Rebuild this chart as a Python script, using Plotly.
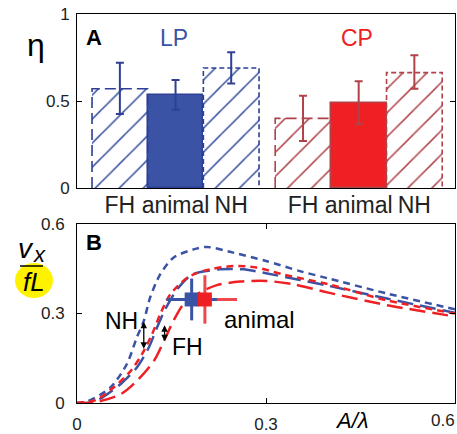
import plotly.graph_objects as go

# ---------------- Panel A data ----------------
bar_labels = ["FH", "animal", "NH"]
lp_eta = [0.57, 0.535, 0.69]
lp_err_top = [0.72, 0.62, 0.78]
lp_err_bot = [0.425, 0.45, 0.60]
cp_eta = [0.40, 0.487, 0.663]
cp_err_top = [0.53, 0.613, 0.763]
cp_err_bot = [0.27, 0.366, 0.571]

# ---------------- Panel B data ----------------
nh_lp_x = [0, 0.016, 0.053, 0.079, 0.095, 0.106, 0.116, 0.132, 0.153, 0.185, 0.206, 0.248, 0.30, 0.354, 0.398, 0.492, 0.60]
nh_lp_y = [0, 0.005, 0.052, 0.13, 0.22, 0.275, 0.353, 0.431, 0.487, 0.515, 0.523, 0.504, 0.476, 0.442, 0.418, 0.367, 0.314]
fh_lp_x = [0, 0.025, 0.04, 0.069, 0.095, 0.114, 0.127, 0.14, 0.159, 0.183, 0.227, 0.264, 0.30, 0.354, 0.399, 0.492, 0.60]
fh_lp_y = [0, 0.003, 0.018, 0.063, 0.119, 0.186, 0.253, 0.314, 0.381, 0.431, 0.448, 0.448, 0.435, 0.412, 0.393, 0.35, 0.302]
nh_cp_x = [0, 0.03, 0.058, 0.085, 0.103, 0.119, 0.132, 0.148, 0.175, 0.201, 0.248, 0.285, 0.327, 0.399, 0.492, 0.60]
nh_cp_y = [0, 0.01, 0.052, 0.107, 0.163, 0.23, 0.297, 0.364, 0.42, 0.443, 0.459, 0.454, 0.431, 0.398, 0.344, 0.30]
fh_cp_x = [0, 0.03, 0.069, 0.095, 0.122, 0.138, 0.153, 0.169, 0.195, 0.222, 0.259, 0.301, 0.343, 0.399, 0.492, 0.60]
fh_cp_y = [0, 0.003, 0.029, 0.074, 0.141, 0.208, 0.275, 0.331, 0.37, 0.395, 0.407, 0.409, 0.398, 0.37, 0.328, 0.29]

anim_x = [0.182, 0.203]      # LP, CP
anim_y = [0.347, 0.347]
anim_xerr = [0.04, 0.051]
anim_yerr = [0.07, 0.081]

arrow_nh = [0.106, 0.182, 0.277]   # x, y_low, y_high
arrow_fh = [0.139, 0.207, 0.266]

x2_ticks = [0, 0.3, 0.6]
x2_ticklabels = ["0", "0.3", "0.6"]

# ---------------- styling ----------------
BLUE = "#3A53A4"
BLUE_D = "#2E3F95"
RED = "#EE2024"
RED_D = "#B0434A"
FONT = "Liberation Sans, Arial, sans-serif"
W, H = 457, 434

lp_pos = [1, 2, 3]
cp_pos = [4.29, 5.29, 6.29]
bw = 1.0

fig = go.Figure()

def add_group(pos, vals, tops, bots, fill, hatch, edge, errc):
    for i, (p, v) in enumerate(zip(pos, vals)):
        if bar_labels[i] == "animal":
            fig.add_trace(go.Bar(x=[p], y=[v], width=bw, marker=dict(color=fill, line=dict(color=edge, width=1.5)),
                                 xaxis="x", yaxis="y"))
        else:
            fig.add_trace(go.Bar(x=[p], y=[v], width=bw,
                                 marker=dict(color="white", line=dict(width=0),
                                             pattern=dict(shape="/", fgcolor=hatch, bgcolor="white",
                                                          size=17, solidity=0.09, fgopacity=1, fillmode="overlay")),
                                 xaxis="x", yaxis="y"))
            dash = "11px,5px" if bar_labels[i] == "FH" else "5px,3px"
            fig.add_trace(go.Scatter(x=[p - bw / 2, p - bw / 2, p + bw / 2, p + bw / 2],
                                     y=[0, v, v, 0], mode="lines",
                                     line=dict(color=edge, width=1.6, dash=dash),
                                     xaxis="x", yaxis="y", cliponaxis=False))
    fig.add_trace(go.Scatter(x=pos, y=vals, mode="markers", marker=dict(size=1, opacity=0),
                             error_y=dict(type="data", symmetric=False,
                                          array=[t - v for t, v in zip(tops, vals)],
                                          arrayminus=[v - b for b, v in zip(bots, vals)],
                                          color=errc, thickness=2, width=4),
                             xaxis="x", yaxis="y"))

add_group(lp_pos, lp_eta, lp_err_top, lp_err_bot, BLUE, BLUE, BLUE_D, BLUE_D)
add_group(cp_pos, cp_eta, cp_err_top, cp_err_bot, RED, RED_D, RED_D, RED_D)

# ---------------- Panel B ----------------
curves = [
    (nh_lp_x, nh_lp_y, BLUE, "7px,5px"),
    (fh_lp_x, fh_lp_y, BLUE, "16px,7px"),
    (nh_cp_x, nh_cp_y, RED, "7px,5px"),
    (fh_cp_x, fh_cp_y, RED, "16px,7px"),
]
for cx, cy, col, dash in curves:
    fig.add_trace(go.Scatter(x=cx, y=cy, mode="lines", line=dict(color=col, width=2.5, dash=dash, shape="spline", smoothing=0.8),
                             xaxis="x2", yaxis="y2"))

anim_cols = [BLUE, "#F0474C"]
for i in [1, 0]:
    fig.add_trace(go.Scatter(x=[anim_x[i]], y=[anim_y[i]], mode="markers", marker=dict(size=1, opacity=0),
                             error_x=dict(type="data", array=[anim_xerr[i]], color=anim_cols[i], thickness=3, width=0),
                             error_y=dict(type="data", array=[anim_yerr[i]], color=anim_cols[i], thickness=3, width=0),
                             xaxis="x2", yaxis="y2"))
for i, col in enumerate([BLUE, RED]):
    fig.add_trace(go.Scatter(x=[anim_x[i]], y=[anim_y[i]], mode="markers",
                             marker=dict(symbol="square", size=14, color=col, line=dict(width=0)),
                             xaxis="x2", yaxis="y2"))

ann = []
for a in (arrow_nh, arrow_fh):
    ann.append(dict(x=a[0], y=a[1], ax=a[0], ay=a[2], xref="x2", yref="y2", axref="x2", ayref="y2",
                    text="", showarrow=True, arrowhead=2, startarrowhead=2, arrowside="end+start",
                    arrowsize=1, startarrowsize=1, arrowwidth=1.3, arrowcolor="black"))

def txt(t, x, y, size, color="black", xref="paper", yref="paper", xanchor="center", **kw):
    ann.append(dict(text=t, x=x, y=y, xref=xref, yref=yref, showarrow=False,
                    font=dict(family=FONT, size=size, color=color), xanchor=xanchor, yanchor="middle", **kw))

def px(xp, yp):
    return xp / W, 1 - yp / H

txt("<b>A</b>", *px(94, 37), 22)
txt("LP", *px(174, 38), 23, BLUE)
txt("CP", *px(357, 38), 23, RED)
txt("η", *px(36, 45), 32)
txt("<b>B</b>", *px(94, 243), 22)
txt("<i>v</i>", *px(26, 248), 28)
txt("<i>x</i>", *px(39, 254), 22)
txt("<i>fL</i>", *px(34, 282), 26)
txt("<i>A/λ</i>", *px(352, 420), 22)
txt("NH", 0.0714, 0.275, 23, xref="x2", yref="y2")
txt("FH", 0.175, 0.187, 23, xref="x2", yref="y2")
txt("animal", 0.29, 0.28, 24, xref="x2", yref="y2")
# last x tick label of panel B sits against the right edge: right-aligned there
ann.append(dict(text=x2_ticklabels[-1], x=x2_ticks[-1], y=1 - 420 / H, xref="x2", yref="paper", showarrow=False,
                font=dict(family=FONT, size=17, color="#222"), xanchor="right", yanchor="middle", xshift=2))

shapes = [
    dict(type="circle", xref="paper", yref="paper", x0=15 / W, x1=53 / W, y0=1 - 298 / H, y1=1 - 263 / H,
         fillcolor="#FFF200", line=dict(width=0), layer="below"),
    dict(type="line", xref="paper", yref="paper", x0=20 / W, x1=43 / W, y0=1 - 266 / H, y1=1 - 266 / H,
         line=dict(color="black", width=1.5)),
]

axis_common = dict(showline=True, linecolor="black", linewidth=1, showgrid=False, zeroline=False,
                   tickfont=dict(family=FONT, size=17, color="#222"), ticks="inside", ticklen=5,
                   tickcolor="black", mirror="ticks", automargin=False)
xdom = [77 / W, 455 / W]

fig.update_layout(
    width=W, height=H, margin=dict(l=0, r=0, t=0, b=0, autoexpand=False), showlegend=False,
    paper_bgcolor="white", plot_bgcolor="white", barmode="overlay", bargap=0,
    xaxis=dict(axis_common, domain=xdom, range=[0.23, 7.02], tickvals=lp_pos + cp_pos,
               ticktext=bar_labels + bar_labels, ticks="", mirror=True,
               tickfont=dict(family=FONT, size=23, color="#222"), anchor="y", ticklabelstandoff=-4),
    yaxis=dict(axis_common, domain=[1 - 188 / H, 1 - 14 / H], range=[0, 1], tickvals=[0, 0.5, 1],
               ticktext=["0", "0.5", "1"], anchor="x", ticklabelstandoff=3),
    xaxis2=dict(axis_common, domain=xdom, range=[0, 0.6], tickvals=x2_ticks,
                ticktext=x2_ticklabels[:-1] + [""], anchor="y2", ticklabelstandoff=6),
    yaxis2=dict(axis_common, domain=[1 - 403 / H, 1 - 224 / H], range=[0, 0.6], tickvals=[0, 0.3, 0.6],
                ticktext=["0", "0.3", "0.6"], anchor="x2", ticklabelstandoff=8),
    annotations=ann, shapes=shapes,
)

fig.write_html("out.html", config={"displayModeBar": False},
               post_script="document.body.style.margin='0';document.body.style.overflow='hidden';")
